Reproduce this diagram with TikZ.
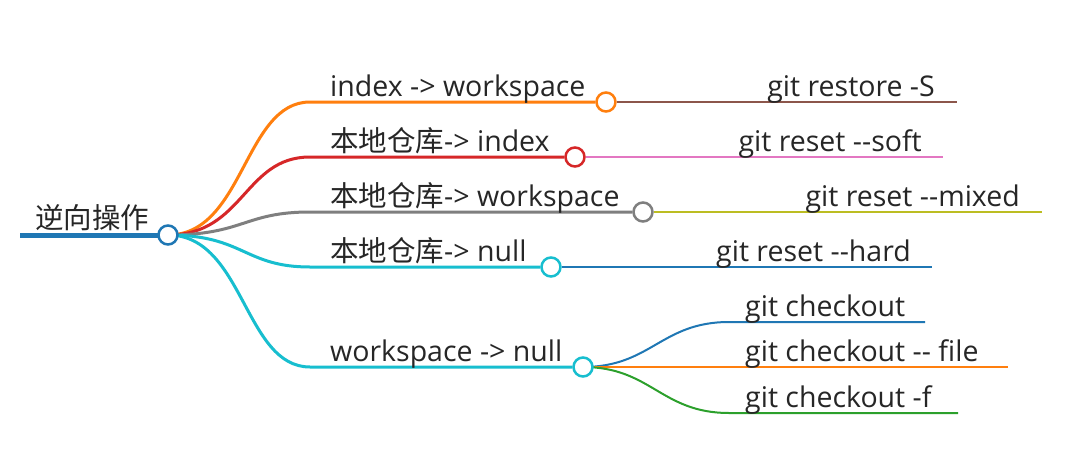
\documentclass[tikz,border=0pt]{standalone}
\usepackage{fontspec}
\setmainfont{Open Sans}
\newfontfamily\cjk{Noto Sans CJK SC}
\definecolor{cA}{HTML}{1F77B4}
\definecolor{cB}{HTML}{FF7F0E}
\definecolor{cC}{HTML}{D62728}
\definecolor{cD}{HTML}{7F7F7F}
\definecolor{cE}{HTML}{17BECF}
\definecolor{cF}{HTML}{8C564B}
\definecolor{cG}{HTML}{E377C2}
\definecolor{cH}{HTML}{BCBD22}
\definecolor{cI}{HTML}{2CA02C}
\pgfdeclarelayer{bg}
\pgfdeclarelayer{paper}
\pgfsetlayers{paper,bg,main}
\begin{document}
\begin{tikzpicture}[x=1pt,y=-1pt,
  lbl/.style={inner sep=0pt, font=\fontsize{28.5}{32}\selectfont, text=black!85},
  dot/.style={circle, draw=#1, line width=2.5pt, fill=white, minimum size=19pt, inner sep=0pt},
  br/.style={draw=#1, line width=3pt},
  leaf/.style={draw=#1, line width=2pt}]
\useasboundingbox (0,0) rectangle (1080,474);
\begin{pgfonlayer}{paper}
\fill[white] (0,0) rectangle (1080,474);
\end{pgfonlayer}

% dots
\node[dot=cA] (root) at (168,235) {};
\node[dot=cB] (b1) at (606,102) {};
\node[dot=cC] (b2) at (575,157) {};
\node[dot=cD] (b3) at (643,212) {};
\node[dot=cE] (b4) at (551,267) {};
\node[dot=cE] (b5) at (583,367) {};

% coordinates
\coordinate (rs) at (20,235);
\coordinate (h1) at (310,102);
\coordinate (h2) at (310,157);
\coordinate (h3) at (310,212);
\coordinate (h4) at (310,267);
\coordinate (h5) at (310,367);
\coordinate (e1) at (957,102);
\coordinate (e2) at (943,157);
\coordinate (e3) at (1042,212);
\coordinate (e4) at (932,267);
\coordinate (s1) at (729,322);
\coordinate (t1) at (925,322);
\coordinate (t2) at (1008,367);
\coordinate (s3) at (729,413);
\coordinate (t3) at (958,413);

\begin{pgfonlayer}{bg}
\draw[cA, line width=5pt] (rs) -- (root.center);
\draw[br=cB] (root.center) .. controls +(76,0) and +(-66,0) .. (h1) -- (b1);
\draw[br=cC] (root.center) .. controls +(76,0) and +(-66,0) .. (h2) -- (b2);
\draw[br=cD] (root.center) .. controls +(76,0) and +(-66,0) .. (h3) -- (b3);
\draw[br=cE] (root.center) .. controls +(76,0) and +(-66,0) .. (h4) -- (b4);
\draw[br=cE] (root.center) .. controls +(76,0) and +(-66,0) .. (h5) -- (b5);
\draw[leaf=cF] (b1) -- (e1);
\draw[leaf=cG] (b2) -- (e2);
\draw[leaf=cH] (b3) -- (e3);
\draw[leaf=cA] (b4) -- (e4);
\draw[leaf=cA] (b5.center) .. controls +(68,0) and +(-68,0) .. (s1) -- (t1);
\draw[leaf=cB] (b5) -- (t2);
\draw[leaf=cI] (b5.center) .. controls +(68,0) and +(-68,0) .. (s3) -- (t3);
\end{pgfonlayer}

% labels
\node[lbl, anchor=base west] (lroot) at (35,228) {\cjk 逆向操作};
\node[lbl, anchor=base west] (l1) at (330,96) {index -> workspace};
\node[lbl, anchor=base west] (l2) at (330,151) {{\cjk 本地仓库}-> index};
\node[lbl, anchor=base west] (l3) at (330,206) {{\cjk 本地仓库}-> workspace};
\node[lbl, anchor=base west] (l4) at (330,261) {{\cjk 本地仓库}-> null};
\node[lbl, anchor=base west] (l5) at (330,361) {workspace -> null};
\node[lbl, anchor=base east] (m1) at (935,96) {git restore -S};
\node[lbl, anchor=base east] (m2) at (922,151) {git reset -{}-soft};
\node[lbl, anchor=base east] (m3) at (1020,206) {git reset -{}-mixed};
\node[lbl, anchor=base east] (m4) at (911,261) {git reset -{}-hard};
\node[lbl, anchor=base west] (n1) at (745,316) {git checkout};
\node[lbl, anchor=base west] (n2) at (745,361) {git checkout -{}- file};
\node[lbl, anchor=base west] (n3) at (745,407) {git checkout -f};
\end{tikzpicture}
\end{document}
